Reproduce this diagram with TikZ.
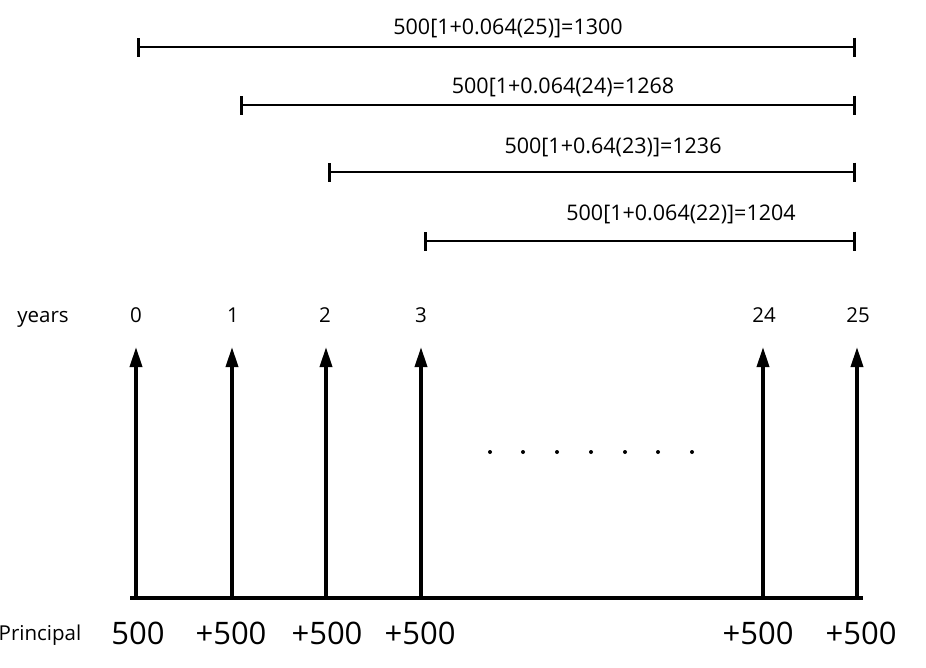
\documentclass[tikz,border=0pt]{standalone}
\usepackage{fontspec}
\setmainfont{Open Sans}
\usetikzlibrary{arrows.meta}
\begin{document}
\begin{tikzpicture}[x=1pt,y=-1pt,
  barline/.style={line width=2.6pt,{Bar[width=19pt]}-{Bar[width=19pt]}},
  uparrow/.style={line width=3.6pt,-{Triangle[length=20pt,width=12pt]}},
  formula/.style={font=\fontsize{21.5}{24}\selectfont},
  yearlab/.style={font=\fontsize{20.5}{23}\selectfont},
  amount/.style={font=\fontsize{31}{34}\selectfont},
  dotmark/.style={circle,fill=black,inner sep=0pt,minimum size=4pt}]
\useasboundingbox (0,0) rectangle (926,667);
% bars
\coordinate (b1s) at (137,47); \coordinate (b1e) at (856,47);
\coordinate (b2s) at (240,105); \coordinate (b2e) at (856,105);
\coordinate (b3s) at (328,172); \coordinate (b3e) at (856,172);
\coordinate (b4s) at (424,241); \coordinate (b4e) at (856,241);
\draw[barline] (b1s) -- (b1e);
\draw[barline] (b2s) -- (b2e);
\draw[barline] (b3s) -- (b3e);
\draw[barline] (b4s) -- (b4e);
\node[formula] (f1) at (508,28) {500[1+0.064(25)]=1300};
\node[formula] (f2) at (563,87) {500[1+0.064(24)=1268};
\node[formula] (f3) at (613,147) {500[1+0.64(23)]=1236};
\node[formula] (f4) at (681,214) {500[1+0.064(22)]=1204};
% years
\node[yearlab] (years) at (43,319) {years};
\node[yearlab] (y0) at (136,315) {0};
\node[yearlab] (y1) at (233,315) {1};
\node[yearlab] (y2) at (325,315) {2};
\node[yearlab] (y3) at (421,315) {3};
\node[yearlab] (y24) at (764,315) {24};
\node[yearlab] (y25) at (858,315) {25};
% baseline
\coordinate (bl) at (130,598); \coordinate (br) at (863,598);
\draw[line width=4pt] (bl) -- (br);
% arrows
\foreach \n/\x in {a0/136,a1/232,a2/326,a3/421,a24/763,a25/857}{
  \coordinate (\n b) at (\x,598);
  \coordinate (\n t) at (\x,347);
  \draw[uparrow] (\n b) -- (\n t);
}
% dots
\foreach \i/\x in {1/490,2/523,3/557,4/591,5/625,6/658,7/692}{
  \node[dotmark] (d\i) at (\x,452) {};
}
% principal
\node[font=\fontsize{20.5}{23}\selectfont] (pr) at (40,635) {Principal};
\node[amount] (p0) at (138,633) {500};
\node[amount] (p1) at (231,633) {+500};
\node[amount] (p2) at (327,633) {+500};
\node[amount] (p3) at (420,633) {+500};
\node[amount] (p24) at (758,633) {+500};
\node[amount] (p25) at (861,633) {+500};
\end{tikzpicture}
\end{document}
